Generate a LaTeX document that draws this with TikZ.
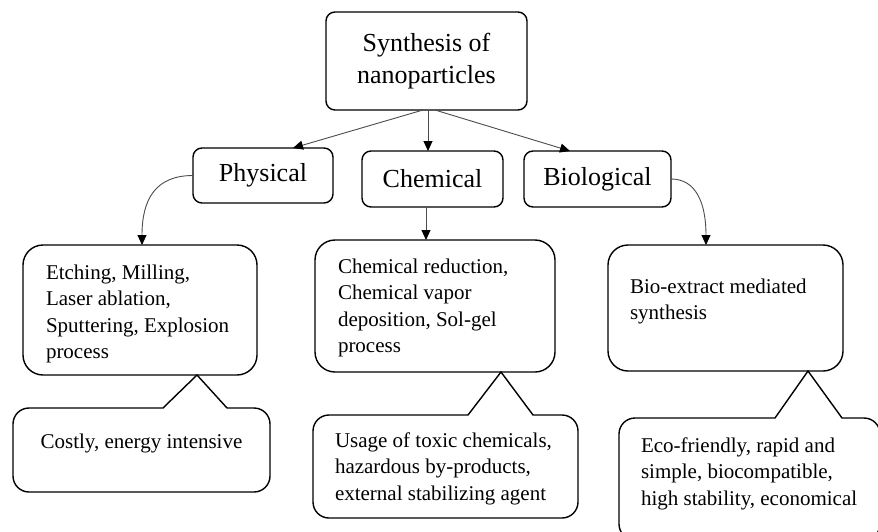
\documentclass[tikz,border=0pt]{standalone}
\usepackage{fontspec}
\setmainfont{Liberation Serif}
\usetikzlibrary{arrows.meta,calc}

% outline of a rounded box with a pointed notch on its top edge
% #1 left, #2 top, #3 right, #4 bottom, #5/#6 notch base, #7/#8 notch tip
\newcommand{\speechbox}[8]{%
  \draw[note] (#1,{(#2+#4)/2}) [rounded corners=16pt] -- (#1,#2)
    [sharp corners] -- (#5,#2) -- (#7,#8) -- (#6,#2)
    [rounded corners=16pt] -- (#3,#2) -- (#3,#4) -- (#1,#4) -- cycle;}

\begin{document}
\begin{tikzpicture}[x=1pt,y=-1pt,
  every node/.style={inner sep=0pt, outer sep=0pt},
  head/.style={draw=black, line width=1.4pt, rounded corners=9pt,
    font=\fontsize{26}{32.5}\selectfont, align=center},
  panel/.style={draw=black, line width=1.4pt, rounded corners=20pt},
  body/.style={font=\fontsize{21}{26.5}\selectfont, align=left, anchor=north west},
  note/.style={draw=black, line width=1.4pt, fill=white, line join=miter},
  link/.style={draw=black!70, line width=0.9pt,
    -{Triangle[length=10pt,width=9pt,color=black,fill=black]}},
]
\useasboundingbox (0,0) rectangle (878,531);
\clip (0,0) rectangle (878,531);
\fill[white] (0,0) rectangle (878,531);

% headings
\node[head, minimum width=201pt, minimum height=98pt] (top) at (426.5,61) {Synthesis of\\nanoparticles};
\node[head, minimum width=140pt, minimum height=55pt] (phys) at (263,175.5) {Physical};
\node[head, minimum width=141pt, minimum height=56pt] (chem) at (432.5,179) {Chemical};
\node[head, minimum width=147pt, minimum height=56pt] (bio) at (597.5,179) {Biological};

% method panels
\node[panel, minimum width=234pt, minimum height=130pt] (b1) at (140,310) {};
\node[panel, minimum width=240pt, minimum height=132pt] (b2) at (435,306) {};
\node[panel, minimum width=235pt, minimum height=126pt] (b3) at (725.5,308) {};

\node[body] (t1) at (46,264.5) {Etching, Milling,\\Laser ablation,\\Sputtering, Explosion\\process};
\node[body] (t2) at (338,258.5) {Chemical reduction,\\Chemical vapor\\deposition, Sol-gel\\process};
\node[body] (t3) at (630,278.5) {Bio-extract mediated\\synthesis};

% remarks
\speechbox{13}{408}{270}{492}{163}{227}{197}{375}
\speechbox{313}{415}{578}{518}{468}{533}{501}{372}
\speechbox{619}{418}{880}{540}{775}{842}{808}{371}

\node[font=\fontsize{21}{26.5}\selectfont, anchor=base] (c1) at (141.5,448) {Costly, energy intensive};
\node[body] (c2) at (335,432.5) {Usage of toxic chemicals,\\hazardous by-products,\\external stabilizing agent};
\node[body] (c3) at (641,437.5) {Eco-friendly, rapid and\\simple, biocompatible,\\high stability, economical};

% connectors
\draw[link] ([xshift=-3.5pt]top.south) -- ([xshift=-40pt]phys.north east);
\draw[link] ([xshift=1.5pt]top.south) -- ([xshift=-4.5pt]chem.north);
\draw[link] ([xshift=8.5pt]top.south) -- ([xshift=-27.5pt]bio.north);

\draw[link] (phys.west) .. controls +(-38,0) and +(0,-45) .. ([xshift=2pt]b1.north);
\draw[link] ([xshift=-6.5pt]chem.south) -- ([xshift=-9pt]b2.north);
\draw[link] (bio.east) .. controls +(25,0) and +(0,-42) .. ([xshift=-19.5pt]b3.north);
\end{tikzpicture}
\end{document}
